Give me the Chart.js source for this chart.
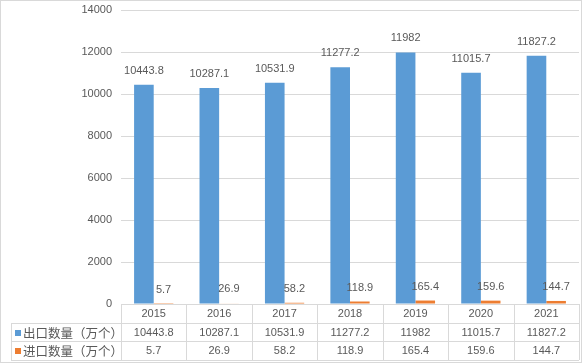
<!DOCTYPE html>
<html>
<head>
<meta charset="utf-8">
<script src="https://cdn.jsdelivr.net/npm/chart.js@4.4.1/dist/chart.umd.min.js"></script>
<style>
    body { margin: 0; background: #fff; }
    #wrap { width: 582px; height: 363px; position: relative; }
</style>
</head>
<body>
<div id="wrap"><canvas id="chart"></canvas></div>
<script>
const years = ['2015', '2016', '2017', '2018', '2019', '2020', '2021'];
const exportQty = [10443.8, 10287.1, 10531.9, 11277.2, 11982, 11015.7, 11827.2];
const importQty = [5.7, 26.9, 58.2, 118.9, 165.4, 159.6, 144.7];
const seriesNames = ['出口数量（万个）', '进口数量（万个）'];
const seriesColors = ['#5B9BD5', '#ED7D31'];

const textColor = '#595959';
const lineColor = '#D9D9D9';
const numFont = '11px "Liberation Sans", "Noto Sans CJK SC", sans-serif';
const cjkFont = '12.5px "Noto Sans CJK SC", sans-serif';

// labels above bars + data table under the axis
const tablePlugin = {
    id: 'tablePlugin',
    afterDraw(chart) {
        const ctx = chart.ctx;
        const area = chart.chartArea;
        const xs = chart.scales.x;
        ctx.save();

        // value labels
        ctx.fillStyle = textColor;
        ctx.font = numFont;
        ctx.textAlign = 'center';
        ctx.textBaseline = 'middle';
        chart.data.datasets.forEach((ds, i) => {
            const meta = chart.getDatasetMeta(i);
            meta.data.forEach((bar, j) => {
                ctx.fillText(String(ds.data[j]), bar.x, bar.y - 14);
            });
        });

        // table grid
        const top = area.bottom;
        const r1 = top + 18.5;
        const r2 = r1 + 18.5;
        const r3 = r2 + 18.5;
        const tableLeft = 11;
        const colW = (area.right - area.left) / years.length;

        ctx.strokeStyle = lineColor;
        ctx.lineWidth = 1;
        ctx.beginPath();
        ctx.moveTo(area.left, top + 0.5);
        ctx.lineTo(area.right, top + 0.5);
        [r1, r2, r3].forEach(y => {
            ctx.moveTo(tableLeft, Math.round(y) + 0.5);
            ctx.lineTo(area.right, Math.round(y) + 0.5);
        });
        ctx.moveTo(tableLeft + 0.5, Math.round(r1));
        ctx.lineTo(tableLeft + 0.5, Math.round(r3));
        for (let k = 0; k <= years.length; k++) {
            const x = Math.round(area.left + k * colW) + 0.5;
            ctx.moveTo(x, top);
            ctx.lineTo(x, Math.round(r3));
        }
        ctx.stroke();

        // category row
        ctx.fillStyle = textColor;
        ctx.font = numFont;
        years.forEach((y, j) => {
            ctx.fillText(y, xs.getPixelForValue(j), (top + r1) / 2 + 1);
        });

        // series rows
        const rows = [[r1, r2, exportQty], [r2, r3, importQty]];
        rows.forEach((row, i) => {
            const cy = (row[0] + row[1]) / 2 + 1;
            ctx.fillStyle = seriesColors[i];
            ctx.fillRect(15, Math.round(cy) - 3, 6, 6);
            ctx.fillStyle = textColor;
            ctx.font = cjkFont;
            ctx.textAlign = 'left';
            ctx.fillText(seriesNames[i], 23, cy);
            ctx.font = numFont;
            ctx.textAlign = 'center';
            row[2].forEach((v, j) => {
                ctx.fillText(String(v), xs.getPixelForValue(j), cy);
            });
        });

        // outer border
        ctx.strokeStyle = lineColor;
        ctx.strokeRect(0.5, 0.5, chart.width - 1, chart.height - 1);
        ctx.restore();
    }
};

new Chart(document.getElementById('chart'), {
    type: 'bar',
    data: {
        labels: years,
        datasets: [
            {label: seriesNames[0], data: exportQty, backgroundColor: seriesColors[0]},
            {label: seriesNames[1], data: importQty, backgroundColor: seriesColors[1]}
        ]
    },
    options: {
        responsive: true,
        maintainAspectRatio: false,
        animation: false,
        layout: {padding: {left: 0, right: 3, top: 10, bottom: 59}},
        datasets: {bar: {categoryPercentage: 0.6, barPercentage: 1}},
        plugins: {legend: {display: false}, tooltip: {enabled: false}},
        scales: {
            x: {
                grid: {display: false},
                border: {display: false},
                ticks: {display: false},
                afterFit: (scale) => { scale.height = 0; }
            },
            y: {
                min: 0,
                max: 14000,
                ticks: {stepSize: 2000, color: textColor, padding: 9,
                    callback: (v) => String(v),
                    font: {family: '"Liberation Sans", sans-serif', size: 11}},
                grid: {color: lineColor, drawTicks: false},
                border: {display: false},
                afterFit: (scale) => {
                    scale.width = 121;
                    scale.paddingTop = 0;
                    scale.paddingBottom = 0;
                }
            }
        }
    },
    plugins: [tablePlugin]
});
</script>
</body>
</html>
